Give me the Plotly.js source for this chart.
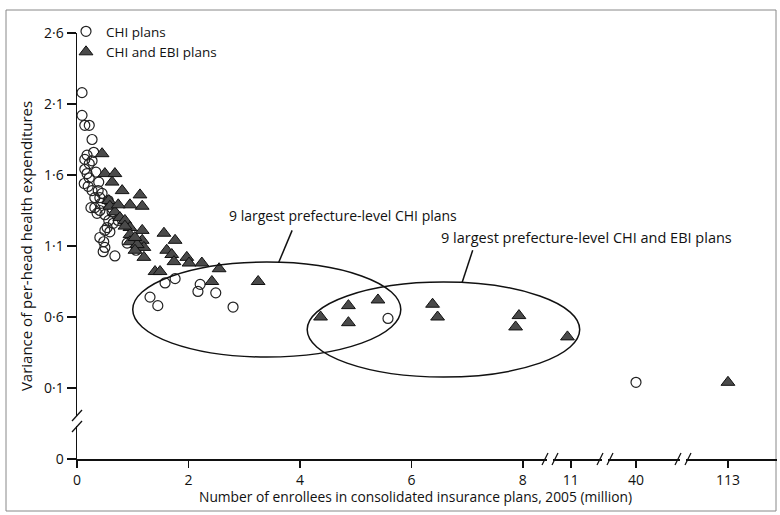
<!DOCTYPE html>
<html>
<head>
<meta charset="utf-8">
<script src="https://cdn.plot.ly/plotly-3.0.1.min.js"></script>
<style>html,body{margin:0;padding:0;background:#fff;}#chart{width:780px;height:515px;}</style>
</head>
<body>
<div id="chart"></div>
<script>
// ---- Data (x: enrollees, million; y: variance of per-head health expenditures)
const chiX = [0.09,0.09,0.14,0.22,0.27,0.30,0.18,0.14,0.27,0.22,0.14,0.18,0.22,0.13,0.20,0.27,0.38,0.45,0.41,0.32,0.25,0.32,0.36,0.43,0.41,0.50,0.57,0.65,0.54,0.50,0.59,0.41,0.48,0.50,0.47,0.68,0.90,1.06,1.58,1.76,1.31,1.45,2.21,2.17,2.49,2.80,5.58,40,0.34,0.39,0.56,0.63,0.74];
const chiY = [2.18,2.02,1.95,1.95,1.85,1.76,1.74,1.71,1.70,1.68,1.64,1.61,1.58,1.54,1.52,1.49,1.49,1.47,1.44,1.44,1.37,1.37,1.33,1.40,1.35,1.32,1.28,1.26,1.23,1.21,1.20,1.16,1.13,1.09,1.06,1.03,1.12,1.07,0.84,0.87,0.74,0.68,0.83,0.78,0.77,0.67,0.59,0.14,1.62,1.55,1.42,1.34,1.28];
const ebiX = [0.45,0.50,0.68,0.63,0.81,1.13,1.17,0.95,0.57,0.59,0.68,0.77,0.86,0.95,0.95,0.95,1.17,1.17,1.20,1.08,1.04,1.20,1.56,1.76,1.61,1.70,1.74,1.97,2.01,2.24,2.55,1.40,1.49,2.42,3.25,4.37,4.87,4.87,5.40,6.38,6.47,7.93,7.87,10.7,113,0.74,0.86,1.04];
const ebiY = [1.75,1.61,1.61,1.55,1.49,1.46,1.38,1.39,1.42,1.38,1.34,1.30,1.28,1.23,1.18,1.13,1.21,1.14,1.09,1.11,1.07,1.02,1.19,1.14,1.07,1.04,0.99,1.02,0.98,0.98,0.94,0.92,0.92,0.85,0.85,0.60,0.68,0.56,0.72,0.69,0.60,0.61,0.53,0.46,0.14,1.39,1.24,1.16];

const xTickVals = [0,2,4,6,8,11,40,113];
const xTickText = ['0','2','4','6','8','11','40','113'];
const yTickVals = [0,0.1,0.6,1.1,1.6,2.1,2.6];
const yTickText = ['0','0·1','0·6','1·1','1·6','2·1','2·6'];

// ---- Broken-axis transforms (data value -> axis position)
function xPos(v){
  if (v <= 9) return v;
  if (v < 20) return 8.86 + (v - 11) * 0.2;
  if (v < 80) return 10.03 + (v - 40) * 0.03;
  return 11.68 + (v - 113) * 0.02;
}
function yPos(v){ return v >= 0.1 ? v : -0.4 + v * 5; }

// pixel helpers for decorations
const L = 77, T = 33, W = 700, H = 426;
const px = p => (p - L) / W;
const py = p => (T + H - p) / H;

const traces = [
  {
    type: 'scatter', mode: 'markers', name: 'CHI plans',
    x: chiX.map(xPos), y: chiY.map(yPos),
    marker: {symbol: 'circle-open', size: 10, color: '#222', line: {width: 1.2, color: '#222'}},
    cliponaxis: false
  },
  {
    type: 'scatter', mode: 'markers', name: 'CHI and EBI plans',
    x: ebiX.map(xPos), y: ebiY.map(yPos),
    marker: {symbol: 'triangle-up', size: 12, color: '#4a4a4a', line: {width: 1, color: '#111'}},
    cliponaxis: false
  }
];

const shapes = [];
// outer frame
shapes.push({type:'rect', xref:'paper', yref:'paper', x0:px(6), x1:px(776), y0:py(511), y1:py(10), line:{color:'#888', width:1}, layer:'below'});
// ellipses
shapes.push({type:'circle', xref:'x', yref:'y', x0:1.0, x1:5.81, y0:0.318, y1:0.987, line:{color:'#111', width:1.5}});
shapes.push({type:'circle', xref:'x', yref:'y', x0:4.13, x1:9.02, y0:0.177, y1:0.846, line:{color:'#111', width:1.5}});
// leader lines
shapes.push({type:'line', xref:'x', yref:'y', x0:3.86, y0:1.21, x1:3.62, y1:0.985, line:{color:'#111', width:1.5}});
shapes.push({type:'line', xref:'x', yref:'y', x0:7.10, y0:1.07, x1:6.91, y1:0.843, line:{color:'#111', width:1.5}});
// y-axis break
shapes.push({type:'rect', xref:'paper', yref:'paper', x0:px(73), x1:px(81), y0:py(426), y1:py(416), fillcolor:'#fff', line:{width:0}, layer:'above'});
shapes.push({type:'line', xref:'paper', yref:'paper', x0:px(72), y0:py(421), x1:px(82), y1:py(410), line:{color:'#111', width:1.3}});
shapes.push({type:'line', xref:'paper', yref:'paper', x0:px(72), y0:py(432), x1:px(82), y1:py(421), line:{color:'#111', width:1.3}});
// x-axis breaks
[550, 605, 683].forEach(function(c){
  shapes.push({type:'rect', xref:'paper', yref:'paper', x0:px(c-3), x1:px(c+3), y0:py(462), y1:py(456), fillcolor:'#fff', line:{width:0}, layer:'above'});
  shapes.push({type:'line', xref:'paper', yref:'paper', x0:px(c-8), y0:py(465), x1:px(c-2), y1:py(453), line:{color:'#111', width:1.3}});
  shapes.push({type:'line', xref:'paper', yref:'paper', x0:px(c+2), y0:py(465), x1:px(c+8), y1:py(453), line:{color:'#111', width:1.3}});
});

const font = 'Open Sans, Liberation Sans, sans-serif';

const layout = {
  width: 780, height: 515,
  margin: {l: L, r: 780 - L - W, t: T, b: 515 - T - H},
  paper_bgcolor: '#fff', plot_bgcolor: '#fff',
  font: {family: font, color: '#111', size: 13},
  showlegend: true,
  legend: {x: px(66), y: py(16), xanchor: 'left', yanchor: 'top', bgcolor: 'rgba(0,0,0,0)', font: {size: 13.5}, tracegroupgap: 0},
  xaxis: {
    range: [0, 12.56], showgrid: false, zeroline: false,
    showline: true, linecolor: '#111', linewidth: 2,
    ticks: 'outside', ticklen: 7, tickwidth: 1.5, tickcolor: '#111',
    tickvals: xTickVals.map(xPos), ticktext: xTickText,
    tickfont: {size: 14}
  },
  yaxis: {
    range: [-0.4, 2.6], showgrid: false, zeroline: false,
    showline: true, linecolor: '#111', linewidth: 1.5,
    ticks: 'outside', ticklen: 9, tickwidth: 1.5, tickcolor: '#111',
    tickvals: yTickVals.map(yPos), ticktext: yTickText,
    tickfont: {size: 14},
    title: {text: 'Variance of per-head health expenditures', font: {size: 15}, standoff: 8}
  },
  shapes: shapes,
  annotations: [
    {xref:'paper', yref:'paper', x:px(415), y:py(496), xanchor:'center', yanchor:'middle', text:'Number of enrollees in consolidated insurance plans, 2005 (million)', showarrow:false, font:{size:13.8}},
    {xref:'x', yref:'y', x:4.77, y:1.318, text:'9 largest prefecture-level CHI plans', showarrow:false, font:{size:14}},
    {xref:'x', yref:'y', x:9.15, y:1.163, text:'9 largest prefecture-level CHI and EBI plans', showarrow:false, font:{size:14.5}}
  ]
};

Plotly.newPlot('chart', traces, layout, {displayModeBar: false, staticPlot: true});
</script>
</body>
</html>
